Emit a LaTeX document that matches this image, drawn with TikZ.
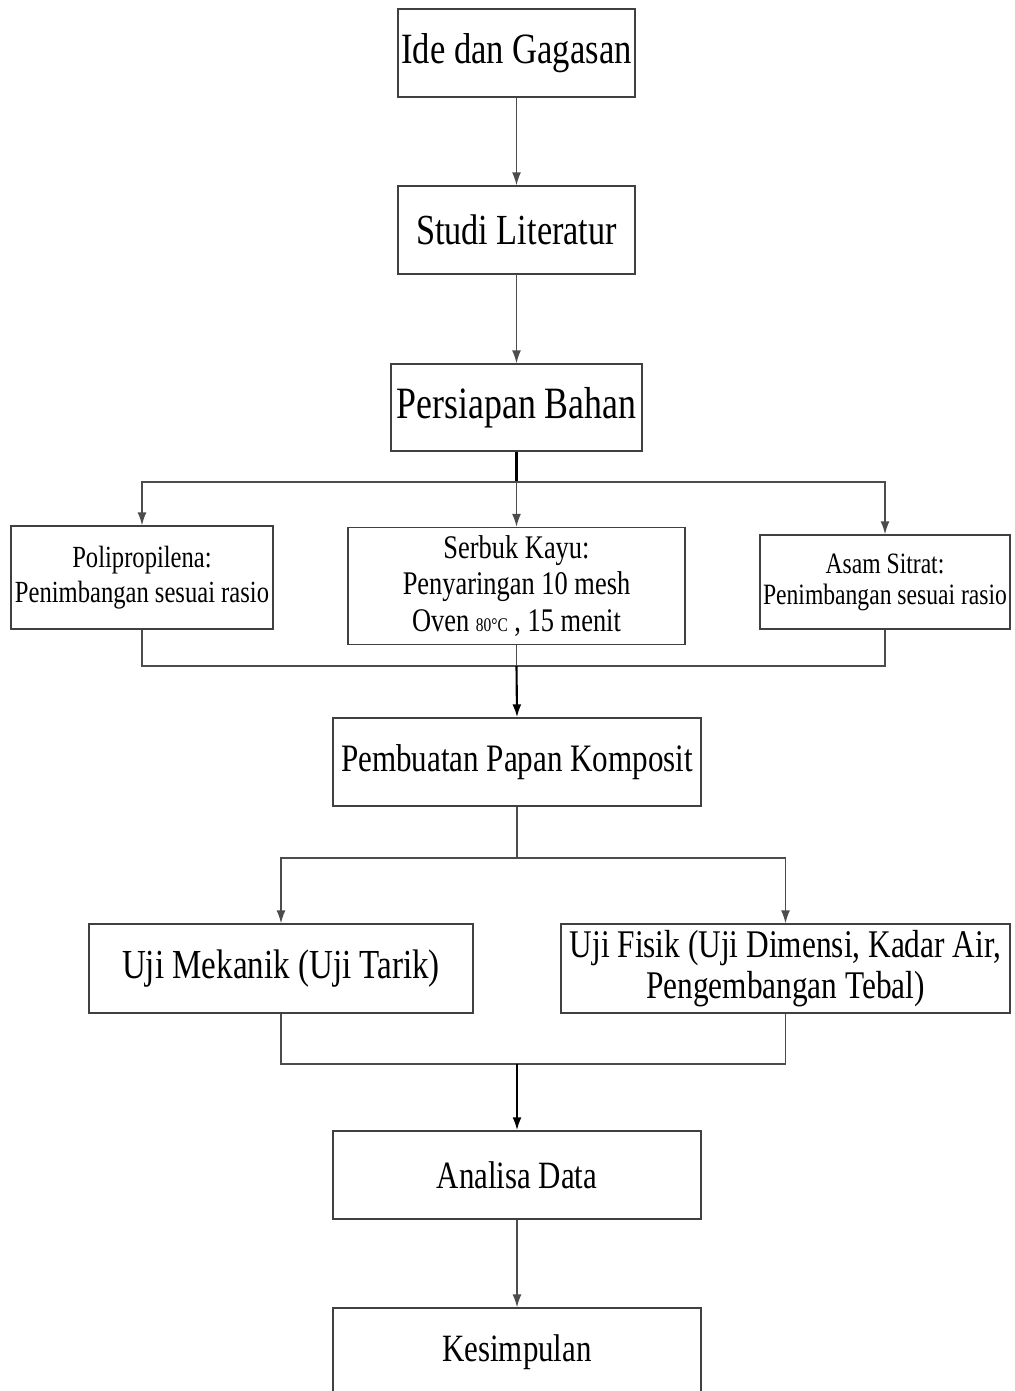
\documentclass[tikz,border=0pt]{standalone}
\usepackage{fontspec}
\setmainfont{Liberation Serif}[FakeStretch=0.8]
\usetikzlibrary{arrows.meta}
\newcommand{\fs}[2]{\fontsize{#1}{#2}\selectfont}
\begin{document}
\begin{tikzpicture}[x=0.02cm,y=-0.02cm,
	box/.style={draw=black!75,line width=0.8pt,align=center,inner sep=0pt},
	line/.style={draw=black!70,line width=0.8pt},
	arr/.style={line,-{Latex[length=2.6mm,width=1.8mm]}}]
	\useasboundingbox (0,0) rectangle (1014,1391);
	\node[box,minimum width=4.74cm,minimum height=1.76cm,font=\fs{24.6}{28}] (ide) at (516.5,53) {Ide dan Gagasan};
	\node[box,minimum width=4.74cm,minimum height=1.76cm,font=\fs{24.4}{28}] (studi) at (516.5,230) {Studi Literatur};
	\node[box,minimum width=5.02cm,minimum height=1.74cm,font=\fs{25.5}{29}] (persiapan) at (516.5,407.5) {Persiapan Bahan};
	\node[box,minimum width=5.24cm,minimum height=2.06cm,font=\fs{17.5}{19.8}] (poli) at (142,577.5) {Polipropilena:\\Penimbangan sesuai rasio};
	\node[box,minimum width=6.74cm,minimum height=2.34cm,font=\fs{18.8}{21}] (serbuk) at (516.5,586) {Serbuk Kayu:\\Penyaringan 10 mesh\\Oven {\fs{11}{13}80°C} , 15 menit};
	\node[box,minimum width=5.0cm,minimum height=1.88cm,font=\fs{16.8}{17.6}] (asam) at (885,582) {Asam Sitrat:\\Penimbangan sesuai rasio};
	\node[box,minimum width=7.36cm,minimum height=1.76cm,font=\fs{22.1}{26}] (pembuatan) at (517,762) {Pembuatan Papan Komposit};
	\node[box,minimum width=7.68cm,minimum height=1.78cm,font=\fs{23.5}{27}] (mekanik) at (281,968.5) {Uji Mekanik (Uji Tarik)};
	\node[box,minimum width=8.98cm,minimum height=1.78cm,font=\fs{22.3}{23.2}] (fisik) at (785.5,968.5) {Uji Fisik (Uji Dimensi, Kadar Air,\\Pengembangan Tebal)};
	\node[box,minimum width=7.36cm,minimum height=1.76cm,font=\fs{22}{26}] (analisa) at (517,1175) {Analisa Data};
	\node[box,minimum width=7.36cm,minimum height=1.76cm,font=\fs{22}{26}] (kesimpulan) at (517,1352) {Kesimpulan};
	% titik cabang dan gabung
	\coordinate (cabang1) at (516.5,482);
	\coordinate (gabung1) at (516.5,666);
	\coordinate (cabang2) at (517,858);
	\coordinate (gabung2) at (517,1064);
	\draw[arr] (ide) -- (studi);
	\draw[arr] (studi) -- (persiapan);
	\draw[line,black,line width=1.2pt] (persiapan) -- (cabang1);
	\draw[arr] (cabang1) -| (poli.north);
	\draw[arr] (cabang1) -- (serbuk.north);
	\draw[arr] (cabang1) -| (asam.north);
	\draw[line] (poli.south) |- (gabung1) -| (asam.south);
	\draw[line] (serbuk.south) -- (gabung1);
	\draw[arr,black,line width=1.2pt] (gabung1) -- (pembuatan.north);
	\draw[line] (pembuatan) -- (cabang2);
	\draw[arr] (cabang2) -| (mekanik.north);
	\draw[arr] (cabang2) -| (fisik.north);
	\draw[line] (mekanik.south) |- (gabung2) -| (fisik.south);
	\draw[arr,black,line width=1.2pt] (gabung2) -- (analisa.north);
	\draw[arr] (analisa) -- (kesimpulan);
\end{tikzpicture}
\end{document}
